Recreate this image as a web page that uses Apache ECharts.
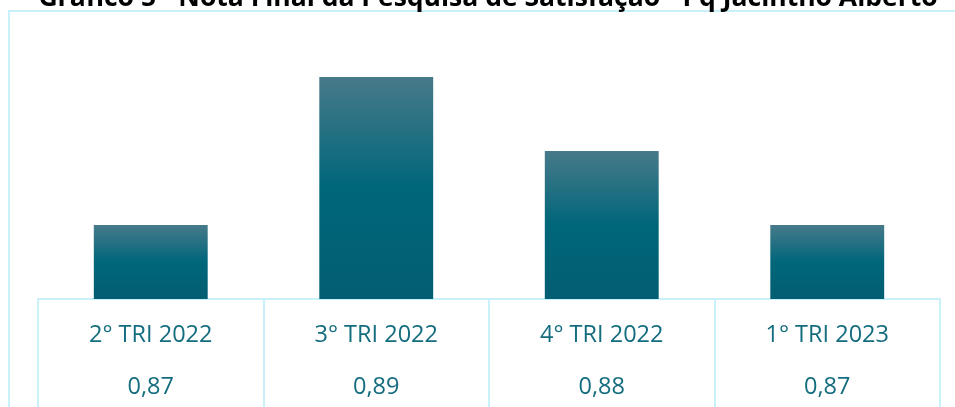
<!DOCTYPE html>
<html>
<head>
<meta charset="utf-8">
<script src="https://cdn.jsdelivr.net/npm/echarts@6/dist/echarts.min.js"></script>
<style>
  html, body { margin: 0; padding: 0; background: #fff; }
  #chart { width: 955px; height: 407px; }
</style>
</head>
<body>
<div id="chart"></div>
<script>
// dados do gráfico
var titleText = 'Gráfico 5 - Nota Final da Pesquisa de Satisfação - Pq Jacintho Alberto'
var categories = ['2° TRI 2022', '3° TRI 2022', '4° TRI 2022', '1° TRI 2023']
var notas = [0.87, 0.89, 0.88, 0.87]
var notasTexto = ['0,87', '0,89', '0,88', '0,87']

var lineColor = '#c8f1f9'
var textColor = '#146d7f'

var chart = echarts.init(document.getElementById('chart'))
chart.setOption({
  animation: false,
  title: {
    text: titleText,
    left: 488,
    textAlign: 'center',
    top: -15,
    padding: 0,
    textStyle: {
      fontFamily: 'Open Sans',
      fontWeight: 'bold',
      fontSize: 26.5,
      color: '#000'
    }
  },
  graphic: [{
    type: 'rect',
    shape: { x: 9, y: 11, width: 980, height: 420 },
    style: { fill: 'none', stroke: lineColor, lineWidth: 2 },
    silent: true
  }],
  grid: {
    left: 38,
    right: 15,
    top: 40,
    bottom: 108
  },
  xAxis: {
    type: 'category',
    data: categories,
    axisLine: { show: true, lineStyle: { color: lineColor, width: 2 } },
    axisTick: {
      show: true,
      length: 110,
      lineStyle: { color: lineColor, width: 2 }
    },
    axisLabel: {
      margin: 10,
      formatter: function (v, i) {
        return '{c|' + v + '}\n{v|' + notasTexto[i] + '}'
      },
      rich: {
        c: { fontFamily: 'Open Sans', fontSize: 23.5, color: textColor, lineHeight: 52 },
        v: { fontFamily: 'Open Sans', fontSize: 23.5, color: textColor, lineHeight: 52 }
      }
    }
  },
  yAxis: {
    type: 'value',
    min: 0.86,
    max: 0.895,
    show: false,
    splitLine: { show: false }
  },
  series: [{
    type: 'bar',
    data: notas,
    barWidth: '50.5%',
    itemStyle: {
      color: new echarts.graphic.LinearGradient(0, 0, 0, 1, [
        { offset: 0, color: '#477a8a' },
        { offset: 0.5, color: '#00667a' },
        { offset: 1, color: '#035e72' }
      ])
    }
  }]
})
</script>
</body>
</html>
